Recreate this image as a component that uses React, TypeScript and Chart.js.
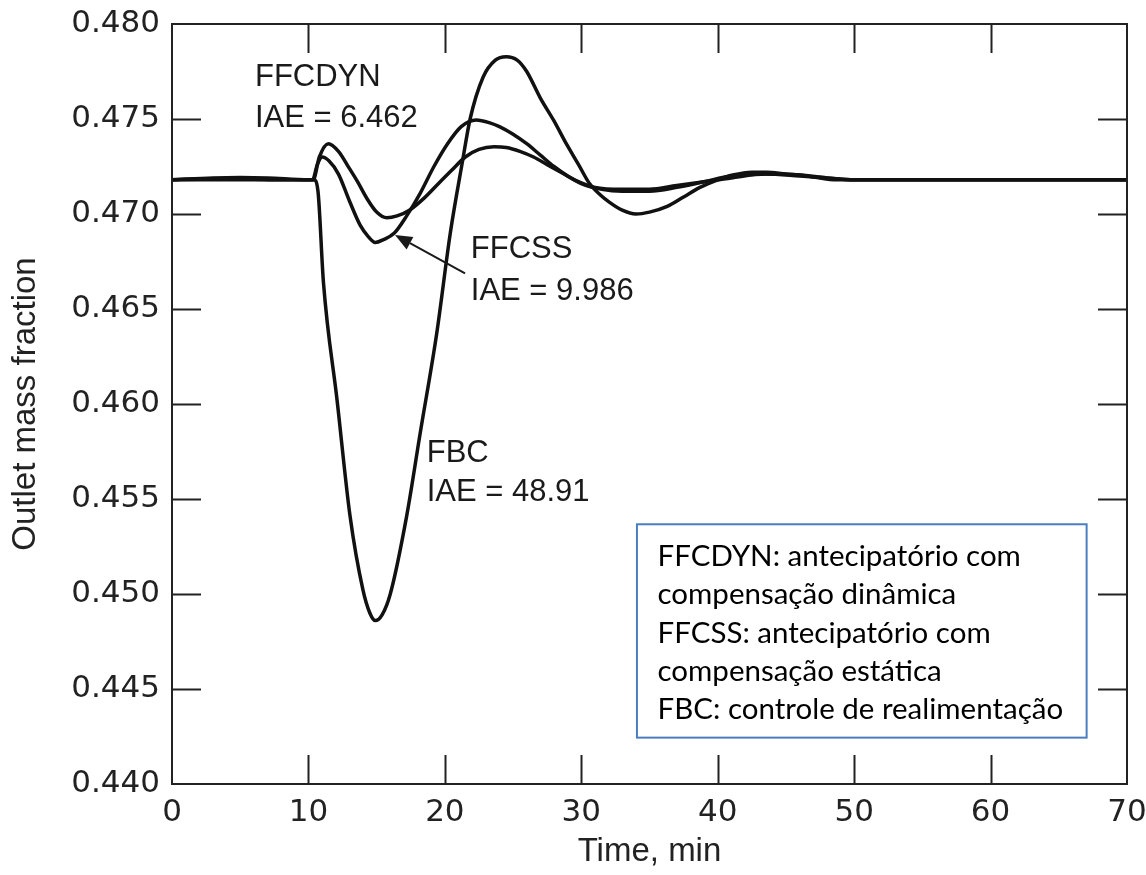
import React, { useEffect, useRef } from "react";
import { Chart, registerables } from "chart.js";

Chart.register(...registerables);

// ---- data ----
const fbcTime = [0, 5, 10, 10.4, 10.7, 11.1, 12.1, 13.05, 14.0, 14.5, 14.9, 15.4, 16.0, 17.2, 18.2, 19.4, 20.4, 21.3, 21.85, 22.8, 23.7, 24.5, 25.3, 26.0, 27.0, 28.0, 28.9, 29.8, 30.6, 31.4, 32.1, 33.0, 34.0, 35.0, 36.3, 37.5, 38.7, 40.0, 41.1, 42.5, 43.6, 45.0, 46.0, 47.5, 48.5, 50, 55, 60, 70];
const fbcValue = [0.4718, 0.4718, 0.4718, 0.4718, 0.4712, 0.4664, 0.4602, 0.4541, 0.4502, 0.4490, 0.4486, 0.4489, 0.45, 0.4541, 0.4585, 0.4637, 0.469, 0.4728, 0.475, 0.4772, 0.4781, 0.47828, 0.4781, 0.4775, 0.4761, 0.4749, 0.4737, 0.4726, 0.4716, 0.471, 0.4706, 0.4702, 0.47, 0.4701, 0.4704, 0.4709, 0.4714, 0.4718, 0.47205, 0.4722, 0.4722, 0.4721, 0.47205, 0.4719, 0.4718, 0.4718, 0.4718, 0.4718, 0.4718];

const ffcssTime = [0, 2, 4, 6, 8, 10, 10.3, 10.65, 11.0, 11.5, 12.2, 13.0, 13.8, 14.4, 14.9, 15.5, 16.3, 17.2, 18.2, 19.2, 20.2, 21.2, 22.3, 23.3, 24.0, 25.0, 26.0, 27.0, 28.0, 29.0, 30.0, 31.5, 33, 35, 37, 39, 41, 43.5, 46, 48, 50, 55, 70];
const ffcssValue = [0.4718, 0.47183, 0.47185, 0.47183, 0.4718, 0.4718, 0.4718, 0.4726, 0.473, 0.4728, 0.4721, 0.4707, 0.4694, 0.4688, 0.4685, 0.46865, 0.469, 0.4699, 0.4711, 0.4725, 0.4737, 0.4746, 0.47495, 0.4748, 0.4746, 0.4742, 0.4737, 0.4731, 0.4725, 0.472, 0.4716, 0.4713, 0.4712, 0.4712, 0.4714, 0.4717, 0.472, 0.4721, 0.47205, 0.4719, 0.4718, 0.4718, 0.4718];

const ffcdynTime = [0, 3, 5, 7, 10, 10.35, 10.8, 11.46, 12.2, 13.0, 13.6, 14.3, 15.0, 15.75, 16.5, 17.4, 18.5, 19.5, 20.5, 21.5, 22.5, 23.6, 24.5, 25.5, 26.5, 27.5, 28.5, 29.5, 31, 33, 35, 37, 39, 41, 43.5, 46, 48, 50, 55, 70];
const ffcdynValue = [0.4718, 0.4719, 0.47192, 0.4719, 0.4718, 0.4718, 0.473, 0.4737, 0.4733, 0.4724, 0.4717, 0.4708, 0.4701, 0.4698, 0.4699, 0.4702, 0.47085, 0.47158, 0.4723, 0.473, 0.4734, 0.47354, 0.4735, 0.4733, 0.473, 0.4726, 0.4722, 0.4718, 0.4714, 0.4713, 0.4713, 0.4715, 0.4717, 0.4719, 0.4721, 0.472, 0.4719, 0.4718, 0.4718, 0.4718];

const xTicks = [0, 10, 20, 30, 40, 50, 60, 70];
const yTicks = [0.44, 0.445, 0.45, 0.455, 0.46, 0.465, 0.47, 0.475, 0.48];

const xTitle = "Time, min";
const yTitle = "Outlet mass fraction";

const noteLabels = ["FFCDYN", "IAE = 6.462", "FFCSS", "IAE = 9.986", "FBC", "IAE = 48.91"];
const noteTimes = [6.08, 6.08, 21.9, 21.9, 18.67, 18.67];
const noteValues = [0.47718, 0.47505, 0.46811, 0.46591, 0.45742, 0.45532];

const arrowFrom = [21.48, 0.46688];
const arrowTo = [16.35, 0.46889];

const legendLines = [
  "FFCDYN: antecipatório com",
  "compensação dinâmica",
  "FFCSS: antecipatório com",
  "compensação estática",
  "FBC: controle de realimentação",
];
const legendBoxTime = [34.08, 67.04];
const legendBoxValue = [0.45367, 0.44244];
const legendTextTime = 35.59;
const legendFirstValue = 0.45198;
const legendStepValue = 0.002016;

const toPoints = (t: number[], v: number[]) => t.map((x, i) => ({ x, y: v[i] }));

const decorPlugin = {
  id: "decor",
  afterDatasetsDraw(chart: any) {
    const { ctx, chartArea: a, scales } = chart;
    const x = scales.x;
    const y = scales.y;
    ctx.save();
    // frame
    ctx.strokeStyle = "#222";
    ctx.lineWidth = 2;
    ctx.strokeRect(a.left, a.top, a.right - a.left, a.bottom - a.top);
    // inner ticks on all four sides
    const tl = 29;
    ctx.beginPath();
    xTicks.slice(1, -1).forEach((t) => {
      const px = Math.round(x.getPixelForValue(t)) + 0.5;
      ctx.moveTo(px, a.bottom);
      ctx.lineTo(px, a.bottom - tl);
      ctx.moveTo(px, a.top);
      ctx.lineTo(px, a.top + tl);
    });
    yTicks.slice(1, -1).forEach((v) => {
      const py = Math.round(y.getPixelForValue(v)) + 0.5;
      ctx.moveTo(a.left, py);
      ctx.lineTo(a.left + tl, py);
      ctx.moveTo(a.right, py);
      ctx.lineTo(a.right - tl, py);
    });
    ctx.stroke();

    // annotations
    ctx.fillStyle = "#1a1a1a";
    ctx.font = '31px "Liberation Sans", Arial, sans-serif';
    ctx.textAlign = "left";
    ctx.textBaseline = "middle";
    noteLabels.forEach((s, i) => {
      ctx.fillText(s, x.getPixelForValue(noteTimes[i]), y.getPixelForValue(noteValues[i]));
    });

    // arrow
    const x0 = x.getPixelForValue(arrowFrom[0]);
    const y0 = y.getPixelForValue(arrowFrom[1]);
    const x1 = x.getPixelForValue(arrowTo[0]);
    const y1 = y.getPixelForValue(arrowTo[1]);
    const ang = Math.atan2(y1 - y0, x1 - x0);
    const head = 17;
    const hw = 7;
    const bx = x1 - head * Math.cos(ang);
    const by = y1 - head * Math.sin(ang);
    ctx.strokeStyle = "#1a1a1a";
    ctx.lineWidth = 2;
    ctx.beginPath();
    ctx.moveTo(x0, y0);
    ctx.lineTo(bx, by);
    ctx.stroke();
    ctx.beginPath();
    ctx.moveTo(x1, y1);
    ctx.lineTo(bx + hw * Math.sin(ang), by - hw * Math.cos(ang));
    ctx.lineTo(bx - hw * Math.sin(ang), by + hw * Math.cos(ang));
    ctx.closePath();
    ctx.fillStyle = "#1a1a1a";
    ctx.fill();

    // legend box
    const lx0 = x.getPixelForValue(legendBoxTime[0]);
    const lx1 = x.getPixelForValue(legendBoxTime[1]);
    const ly0 = y.getPixelForValue(legendBoxValue[0]);
    const ly1 = y.getPixelForValue(legendBoxValue[1]);
    ctx.fillStyle = "#fff";
    ctx.fillRect(lx0, ly0, lx1 - lx0, ly1 - ly0);
    ctx.strokeStyle = "#4a7ebf";
    ctx.lineWidth = 2;
    ctx.strokeRect(lx0, ly0, lx1 - lx0, ly1 - ly0);
    ctx.fillStyle = "#000";
    ctx.font = '29.5px Lato, "Open Sans", sans-serif';
    legendLines.forEach((s, i) => {
      ctx.fillText(s, x.getPixelForValue(legendTextTime), y.getPixelForValue(legendFirstValue - i * legendStepValue));
    });
    ctx.restore();
  },
};

export default function App() {
  const ref = useRef<HTMLCanvasElement | null>(null);
  useEffect(() => {
    document.body.style.margin = "0";
    const canvas = ref.current;
    if (!canvas) return;
    const lineStyle = {
      borderColor: "#111",
      borderWidth: 3.5,
      pointRadius: 0,
      fill: false,
      cubicInterpolationMode: "monotone" as const,
    };
    const chart = new Chart(canvas, {
      type: "line",
      data: {
        datasets: [
          { label: "FBC", data: toPoints(fbcTime, fbcValue), ...lineStyle },
          { label: "FFCSS", data: toPoints(ffcssTime, ffcssValue), ...lineStyle },
          { label: "FFCDYN", data: toPoints(ffcdynTime, ffcdynValue), ...lineStyle },
        ],
      },
      options: {
        animation: false,
        responsive: true,
        maintainAspectRatio: false,
        layout: { padding: { top: 24, right: 19, left: 0, bottom: 0 } },
        plugins: { legend: { display: false }, tooltip: { enabled: false } },
        scales: {
          x: {
            type: "linear",
            min: 0,
            max: 70,
            grid: { display: false, drawTicks: false },
            border: { display: false },
            afterBuildTicks: (s: any) => {
              s.ticks = xTicks.map((v) => ({ value: v }));
            },
            afterFit: (s: any) => {
              s.height = 91;
              s.paddingLeft = 0;
              s.paddingRight = 0;
            },
            ticks: {
              padding: 10,
              color: "#222",
              font: { family: '"DejaVu Sans"', size: 31 },
              maxRotation: 0,
              autoSkip: false,
            },
            title: {
              display: true,
              text: xTitle,
              color: "#222",
              font: { family: '"Liberation Sans"', size: 33 },
              padding: { top: 0, bottom: 3 },
            },
          },
          y: {
            type: "linear",
            min: 0.44,
            max: 0.48,
            grid: { display: false, drawTicks: false },
            border: { display: false },
            afterBuildTicks: (s: any) => {
              s.ticks = yTicks.map((v) => ({ value: v }));
            },
            afterFit: (s: any) => {
              s.width = 172;
              s.paddingTop = 0;
              s.paddingBottom = 0;
            },
            ticks: {
              padding: 12,
              color: "#222",
              font: { family: '"DejaVu Sans"', size: 31 },
              callback: (v: any) => Number(v).toFixed(3),
              autoSkip: false,
            },
            title: {
              display: true,
              text: yTitle,
              color: "#222",
              font: { family: '"Liberation Sans"', size: 33 },
              padding: { top: 6, bottom: 0 },
            },
          },
        },
      },
      plugins: [decorPlugin],
    });
    return () => chart.destroy();
  }, []);
  return (
    <div style={{ position: "fixed", left: 0, top: 0, width: 1146, height: 875, background: "#fff" }}>
      <canvas ref={ref} />
    </div>
  );
}
